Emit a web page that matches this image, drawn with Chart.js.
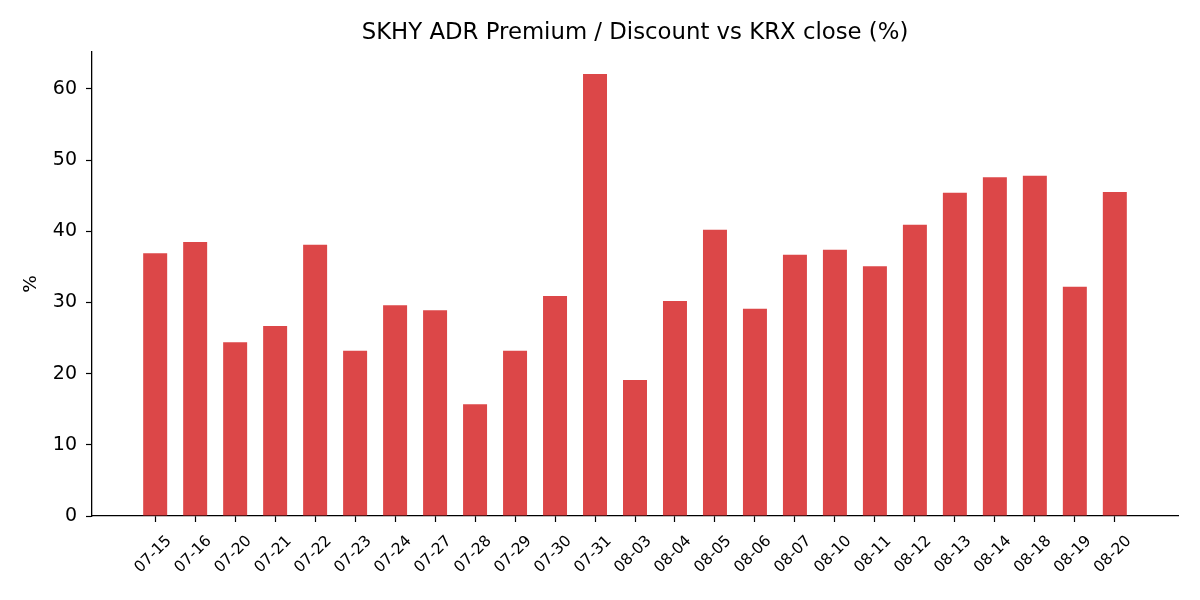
<!DOCTYPE html>
<html>
<head>
<meta charset="utf-8">
<script src="https://cdn.jsdelivr.net/npm/chart.js@4"></script>
<style>
  html, body { margin: 0; padding: 0; background: #fff; }
  #wrap { width: 1200px; height: 600px; }
</style>
</head>
<body>
<div id="wrap"><canvas id="chart"></canvas></div>
<script>
const dates = ['07-15', '07-16', '07-20', '07-21', '07-22', '07-23', '07-24', '07-27', '07-28', '07-29',
    '07-30', '07-31', '08-03', '08-04', '08-05', '08-06', '08-07', '08-10', '08-11', '08-12',
    '08-13', '08-14', '08-18', '08-19', '08-20'];
const premium = [36.9, 38.5, 24.4, 26.7, 38.1, 23.2, 29.6, 28.9, 15.7, 23.2,
    30.9, 62.1, 19.1, 30.2, 40.2, 29.1, 36.7, 37.4, 35.1, 40.9,
    45.4, 47.6, 47.8, 32.2, 45.5];
const yTicks = [0, 10, 20, 30, 40, 50, 60];

const font = "'DejaVu Sans', sans-serif";

const chart = new Chart(document.getElementById('chart'), {
    type: 'bar',
    data: {
        datasets: [{
            data: premium.map((v, i) => ({ x: i, y: v })),
            backgroundColor: 'rgba(214, 39, 40, 0.85)',
            borderWidth: 0,
            barPercentage: 0.6,
            categoryPercentage: 1
        }]
    },
    options: {
        responsive: true,
        maintainAspectRatio: false,
        animation: false,
        devicePixelRatio: 1,
        layout: {
            padding: { left: 0, right: 22, top: 0, bottom: 0 }
        },
        plugins: {
            legend: { display: false },
            tooltip: { enabled: false },
            title: {
                display: true,
                fullSize: false,
                text: 'SKHY ADR Premium / Discount vs KRX close (%)',
                color: '#000',
                font: { family: font, size: 22.8, weight: 'normal', lineHeight: 1.2 },
                padding: { top: 19, bottom: 5.5 }
            }
        },
        scales: {
            x: {
                type: 'linear',
                offset: false,
                min: -1.58,
                max: dates.length - 1 + 1.58,
                afterBuildTicks: ax => {
                    ax.ticks = dates.map((_, i) => ({ value: i }));
                },
                afterFit: ax => { ax.height = 84; },
                ticks: {
                    autoSkip: false,
                    maxRotation: 45,
                    minRotation: 45,
                    labelOffset: 14,
                    padding: 10,
                    color: '#000',
                    font: { family: font, size: 15.5 },
                    callback: value => dates[value]
                },
                grid: {
                    offset: false,
                    drawOnChartArea: false,
                    drawTicks: true,
                    tickLength: 6,
                    tickWidth: 1.2,
                    tickColor: '#000'
                },
                border: { display: true, color: '#000', width: 1.3 }
            },
            y: {
                min: 0,
                max: 65.2,
                afterBuildTicks: ax => {
                    ax.ticks = yTicks.map(v => ({ value: v }));
                },
                afterFit: ax => { ax.width = 92; },
                ticks: {
                    padding: 9,
                    color: '#000',
                    font: { family: font, size: 19 },
                    callback: value => value
                },
                title: {
                    display: true,
                    text: '%',
                    color: '#000',
                    font: { family: font, size: 18.5 },
                    padding: { top: 20, bottom: 0 }
                },
                grid: {
                    drawOnChartArea: false,
                    drawTicks: true,
                    tickLength: 6,
                    tickWidth: 1.2,
                    tickColor: '#000'
                },
                border: { display: true, color: '#000', width: 1.3 }
            }
        }
    }
});
</script>
</body>
</html>
